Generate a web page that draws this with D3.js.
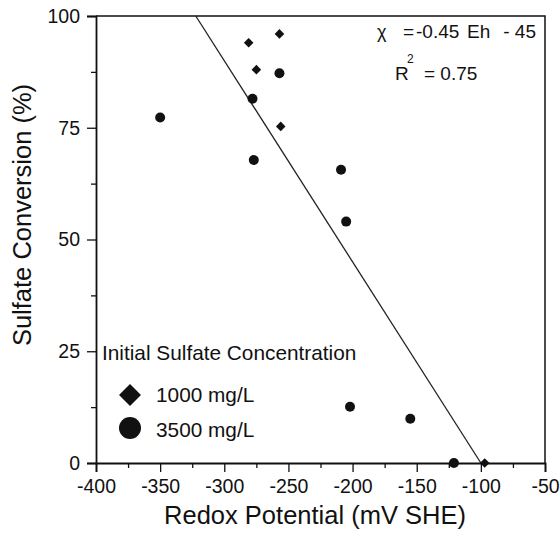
<!DOCTYPE html>
<html>
<head>
<meta charset="utf-8">
<script src="https://cdn.jsdelivr.net/npm/d3@7"></script>
<style>
  body { margin: 0; background: #fff; }
  text { font-family: "Liberation Sans", Arial, sans-serif; fill: #111; }
</style>
</head>
<body>
<svg id="chart"></svg>
<script>
const width = 560;
const height = 537;

// 1000 mg/L (diamonds)
const diamondEh = [-281, -257, -275, -256, -97];
const diamondConv = [94, 96, 88, 75.3, 0];
// 3500 mg/L (circles)
const circleEh = [-350, -257, -278, -277, -209, -205, -202, -155, -121];
const circleConv = [77.3, 87.2, 81.5, 67.8, 65.6, 54, 12.6, 9.9, 0];
// fit: conversion = -0.45 Eh - 45
const fitSlope = -0.45;
const fitIntercept = -45;

const xMajor = [-400, -350, -300, -250, -200, -150, -100, -50];
const xMinor = [-375, -325, -275, -225, -175, -125, -75];
const yMajor = [0, 25, 50, 75, 100];
const yMinor = [12.5, 37.5, 62.5, 87.5];
const legendTitle = 'Initial Sulfate Concentration';
const legendLabels = ['1000 mg/L', '3500 mg/L'];

const svg = d3.select('#chart')
  .attr('width', width)
  .attr('height', height);

const x = d3.scaleLinear().domain([-400, -50]).range([96, 545]);
const y = d3.scaleLinear().domain([0, 100]).range([463, 16]);

// 上边框和右边框
svg.append('path')
  .attr('d', `M${x(-400)},${y(100)}H${x(-50)}V${y(0)}`)
  .attr('fill', 'none')
  .attr('stroke', '#111')
  .attr('stroke-width', 1.5);

// x axis, major + minor ticks
svg.append('g')
  .attr('transform', `translate(0,${y(0)})`)
  .call(d3.axisBottom(x).tickValues(xMajor).tickSize(9).tickPadding(7)
    .tickFormat(d => d));
svg.append('g')
  .attr('transform', `translate(0,${y(0)})`)
  .call(d3.axisBottom(x).tickValues(xMinor).tickSize(5).tickFormat(''))
  .select('.domain').remove();

// y axis
svg.append('g')
  .attr('transform', `translate(${x(-400)},0)`)
  .call(d3.axisLeft(y).tickValues(yMajor).tickSize(9).tickPadding(7));
svg.append('g')
  .attr('transform', `translate(${x(-400)},0)`)
  .call(d3.axisLeft(y).tickValues(yMinor).tickSize(5).tickFormat(''))
  .select('.domain').remove();

svg.selectAll('.domain').attr('stroke', '#111').attr('stroke-width', 1.8);
svg.selectAll('.tick line').attr('stroke', '#111').attr('stroke-width', 1.3);
svg.selectAll('.tick text')
  .attr('font-size', 19.5)
  .attr('font-family', '"Liberation Sans", Arial, sans-serif')
  .attr('fill', '#111');

// axis titles
svg.append('text')
  .attr('x', 315)
  .attr('y', 524)
  .attr('text-anchor', 'middle')
  .attr('font-size', 25.5)
  .text('Redox Potential (mV SHE)');

svg.append('text')
  .attr('transform', 'translate(31,215) rotate(-90)')
  .attr('text-anchor', 'middle')
  .attr('font-size', 25.5)
  .text('Sulfate Conversion (%)');

// fit line, only inside the plot
const fitStart = (100 - fitIntercept) / fitSlope;
const fitEnd = (0 - fitIntercept) / fitSlope;
svg.append('line')
  .attr('x1', x(fitStart))
  .attr('y1', y(fitSlope * fitStart + fitIntercept))
  .attr('x2', x(fitEnd))
  .attr('y2', y(fitSlope * fitEnd + fitIntercept))
  .attr('stroke', '#222')
  .attr('stroke-width', 1.3);

// diamonds
svg.append('g')
  .selectAll('path')
  .data(diamondEh)
  .enter()
  .append('path')
  .attr('d', d3.symbol().type(d3.symbolSquare).size(46))
  .attr('transform', (d, i) => `translate(${x(d)},${y(diamondConv[i])}) rotate(45)`)
  .attr('fill', '#111');

// circles
svg.append('g')
  .selectAll('circle')
  .data(circleEh)
  .enter()
  .append('circle')
  .attr('cx', d => x(d))
  .attr('cy', (d, i) => y(circleConv[i]))
  .attr('r', 5)
  .attr('fill', '#111');

// equation
svg.append('text').attr('x', 377).attr('y', 38).attr('font-size', 18).text('χ');
svg.append('text').attr('x', 403).attr('y', 38).attr('font-size', 19).text('=');
svg.append('text').attr('x', 416).attr('y', 38).attr('font-size', 19).text('-0.45');
svg.append('text').attr('x', 467).attr('y', 38).attr('font-size', 19).text('Eh');
svg.append('text').attr('x', 536).attr('y', 38).attr('font-size', 19)
  .attr('text-anchor', 'end').text('- 45');
svg.append('text').attr('x', 395).attr('y', 80).attr('font-size', 19).text('R');
svg.append('text').attr('x', 407).attr('y', 63).attr('font-size', 12).text('2');
svg.append('text').attr('x', 424).attr('y', 80).attr('font-size', 19).text('= 0.75');

// legend
svg.append('text')
  .attr('x', 102)
  .attr('y', 360)
  .attr('font-size', 20.8)
  .text(legendTitle);

svg.append('path')
  .attr('d', d3.symbol().type(d3.symbolSquare).size(240))
  .attr('transform', 'translate(130,395) rotate(45)')
  .attr('fill', '#111');
svg.append('circle')
  .attr('cx', 130)
  .attr('cy', 428)
  .attr('r', 11)
  .attr('fill', '#111');

svg.selectAll('.legend-label')
  .data(legendLabels)
  .enter()
  .append('text')
  .attr('class', 'legend-label')
  .attr('x', 156)
  .attr('y', (d, i) => 402 + i * 35)
  .attr('font-size', 20.8)
  .text(d => d);
</script>
</body>
</html>
